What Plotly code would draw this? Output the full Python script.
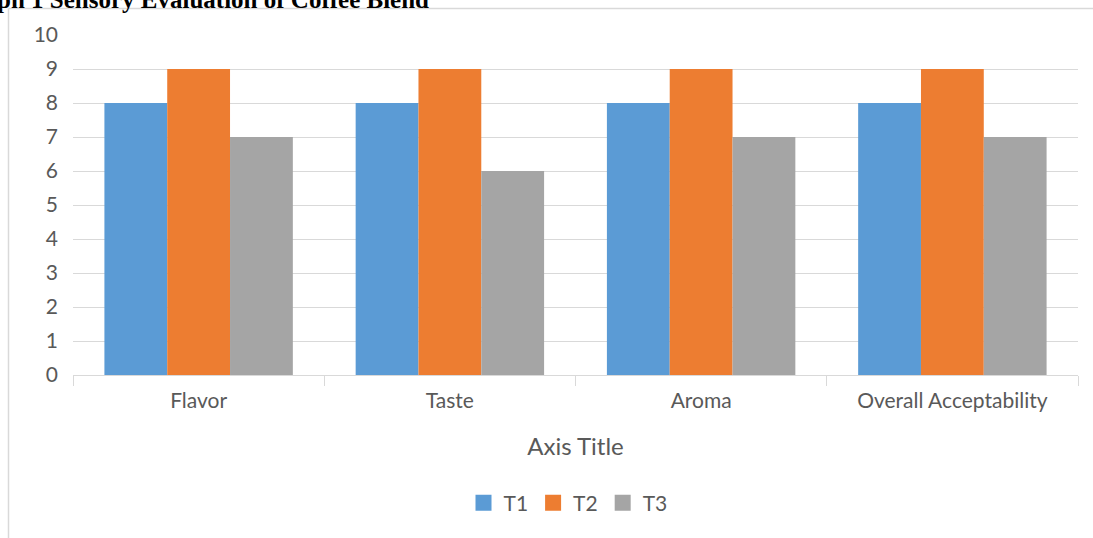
import plotly.graph_objects as go

categories = ["Flavor", "Taste", "Aroma", "Overall Acceptability"]
t1 = [8, 8, 8, 8]
t2 = [9, 9, 9, 9]
t3 = [7, 6, 7, 7]
series_names = ["T1", "T2", "T3"]
colors = ["#5B9BD5", "#ED7D31", "#A5A5A5"]

W, H = 1093, 538
L, R, T, B = 73, 15, 35, 163
pw, ph = W - L - R, H - T - B

def px_to_paper_x(px):
    return (px - L) / pw

def px_to_paper_y(py):
    return (H - B - py) / ph

font_family = "Lato, 'Open Sans', sans-serif"
gray = "#595959"

fig = go.Figure()
for name, vals, c in zip(series_names, [t1, t2, t3], colors):
    fig.add_trace(go.Bar(x=categories, y=vals, name=name, showlegend=False,
                         marker=dict(color=c, line=dict(width=0))))
# legend entries with larger square swatches
for name, c in zip(series_names, colors):
    fig.add_trace(go.Scatter(x=[None], y=[None], mode="markers", name=name,
                             marker=dict(symbol="square", size=16, color=c)))

fig.update_layout(
    width=W, height=H,
    margin=dict(l=L, r=R, t=T, b=B, pad=0),
    paper_bgcolor="white", plot_bgcolor="white",
    barmode="group", bargap=0.25, bargroupgap=0,
    font=dict(family=font_family, color=gray, size=21),
    showlegend=True,
    legend=dict(orientation="h", x=px_to_paper_x(568), xanchor="center",
                y=px_to_paper_y(503), yanchor="middle",
                font=dict(size=21, color=gray), itemwidth=30, traceorder="normal",
                itemsizing="trace"),
    xaxis=dict(
        showline=True, linecolor="#d9d9d9", linewidth=1,
        ticks="outside", tickson="boundaries", ticklen=10, tickcolor="#d9d9d9",
        tickfont=dict(size=21, color=gray),
        ticklabelstandoff=7,
        title=dict(text="Axis Title", font=dict(size=24, color=gray), standoff=26),
        showgrid=False,
    ),
    yaxis=dict(
        range=[0, 10], dtick=1, tick0=0,
        showgrid=True, gridcolor="#d9d9d9", gridwidth=1,
        showline=False, zeroline=False, ticks="",
        tickfont=dict(size=21, color=gray),
        ticklabelstandoff=14,
    ),
    shapes=[
        dict(type="line", xref="paper", yref="paper",
             x0=px_to_paper_x(8.5), x1=px_to_paper_x(1100),
             y0=px_to_paper_y(8.5), y1=px_to_paper_y(8.5),
             line=dict(color="#d9d9d9", width=1.5)),
        dict(type="line", xref="paper", yref="paper",
             x0=px_to_paper_x(8.5), x1=px_to_paper_x(8.5),
             y0=px_to_paper_y(8.5), y1=px_to_paper_y(545),
             line=dict(color="#d9d9d9", width=1.5)),
    ],
    annotations=[
        dict(text="<b>Graph 1 Sensory Evaluation of Coffee Blend</b>", xref="paper", yref="paper",
             x=px_to_paper_x(-48), xanchor="left", y=px_to_paper_y(15), yanchor="bottom",
             showarrow=False, font=dict(family="'Liberation Serif', serif", size=25, color="black")),
    ],
)

fig.write_html("out.html")
